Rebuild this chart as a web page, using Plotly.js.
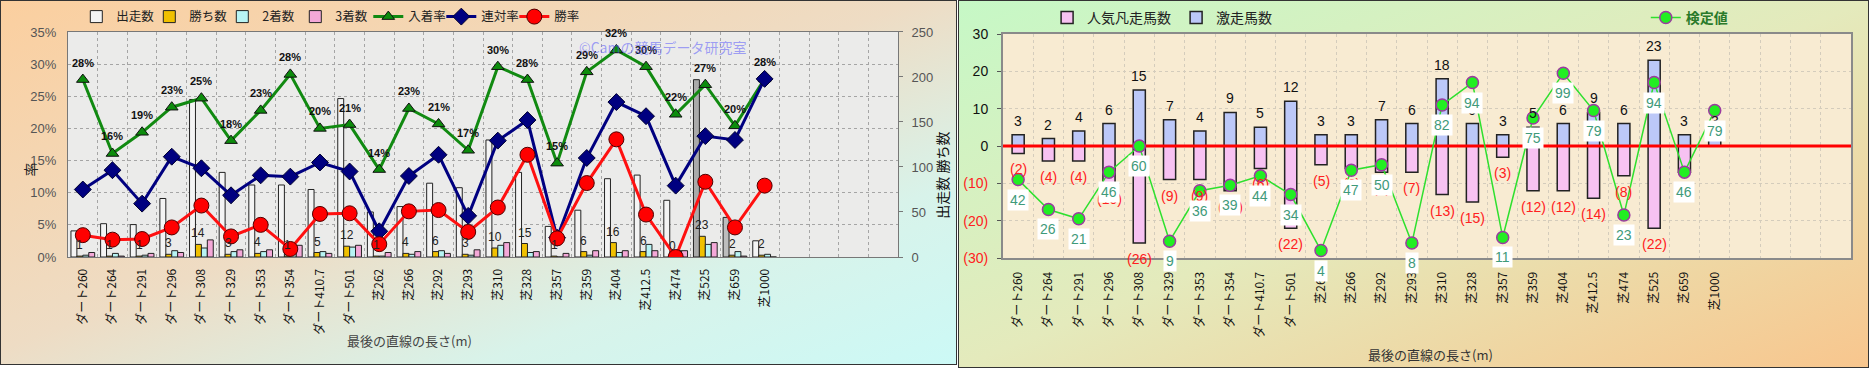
<!DOCTYPE html>
<html><head><meta charset="utf-8">
<script src="https://cdn.plot.ly/plotly-3.0.1.min.js"></script>
<style>
html,body{margin:0;padding:0;width:1869px;height:368px;overflow:hidden;background:#ffffff;}
#left{position:absolute;left:0;top:0;width:955px;height:363px;border:1px solid #333;
 background:linear-gradient(to bottom right,#fbcf9f 0%,#eedcc4 48%,#d8f3ea 75%,#ccf9f6 100%);}
#right{position:absolute;left:958px;top:0;width:909px;height:366px;border:1px solid #333;
 background:linear-gradient(to bottom right,#c6f8c6 0%,#e4eabc 50%,#f8c68e 100%);}
</style></head>
<body>
<div id="left"></div>
<div id="right"></div>
<script>
// ---------- data ----------
const categories = ['ダート260','ダート264','ダート291','ダート296','ダート308','ダート329','ダート353','ダート354','ダート410.7','ダート501',
  '芝262','芝266','芝292','芝293','芝310','芝328','芝357','芝359','芝404','芝412.5','芝474','芝525','芝659','芝1000'];
// left chart
const starts  = [29,37,36,65,175,94,80,80,75,176,50,56,82,77,130,94,34,52,87,91,63,197,44,18];
const wins    = [1,1,1,3,14,3,4,1,5,12,1,4,6,3,10,15,1,6,16,6,0,23,2,2];
const seconds = [2,4,2,7,10,6,6,9,6,11,1,3,7,2,13,5,0,2,5,14,7,14,6,3];
const thirds  = [5,1,4,5,19,8,8,13,4,13,5,6,4,8,16,6,4,7,7,7,7,16,1,0];
const placeRate = [27.6,16.1,19.4,23.3,24.7,18.1,22.8,28.4,20.0,20.6,13.6,23.1,20.7,16.6,29.6,27.6,14.6,28.8,32.2,29.6,22.2,26.8,20.4,27.7];
const renRate   = [10.5,13.5,8.3,15.6,13.8,9.6,12.7,12.5,14.7,13.3,4.0,12.6,15.9,6.4,18.1,21.3,3.0,15.4,24.1,21.9,11.1,18.8,18.2,27.7];
const winRate   = [3.4,2.7,2.8,4.6,8.0,3.2,5.0,1.25,6.7,6.8,2.0,7.1,7.3,3.9,7.7,15.9,2.9,11.5,18.3,6.6,0,11.7,4.6,11.1];
const rateTicks = [0,5,10,15,20,25,30,35];
const countTicks = [0,50,100,150,200,250];
// right chart
const bonso  = [2,4,4,10,26,9,9,12,6,22,5,6,7,7,13,15,3,12,12,14,8,22,7,0];
const gekiso = [3,2,4,6,15,7,4,9,5,12,3,3,7,6,18,6,3,5,6,9,6,23,3,3];
const kentei = [42,26,21,46,60,9,36,39,44,34,4,47,50,8,82,94,11,75,99,79,23,94,46,79];
const rightTicks = [-30,-20,-10,0,10,20,30];

// ---------- common ----------
const FONT = 'Liberation Sans, Noto Sans CJK JP, sans-serif';
const JFONT = 'Noto Sans CJK JP, Liberation Sans, sans-serif';
const idx = categories.map((_, i) => i);
const NSLOT = 28;
function paperAnn(x, y, text, font, angle) {
  return {xref:'paper', yref:'paper', x:x, y:y, xanchor:'center', yanchor:'middle', showarrow:false,
    text:text, font:font, textangle:angle || 0};
}

// ---------- left chart ----------
const startColors = categories.map(c => c === '芝525' ? '#aaaaaa' : (c === '芝659' ? '#bdbdbd' : '#f4f4f4'));
const barLine = {color:'#222', width:1};
const leftTraces = [
  {type:'bar', name:'出走数', x:idx, y:starts, yaxis:'y', marker:{color:startColors, line:barLine}, hoverinfo:'skip'},
  {type:'bar', name:'勝ち数', x:idx, y:wins, yaxis:'y', marker:{color:'#f0c000', line:barLine}, hoverinfo:'skip'},
  {type:'bar', name:'2着数', x:idx, y:seconds, yaxis:'y', marker:{color:'#b8f4f4', line:barLine}, hoverinfo:'skip'},
  {type:'bar', name:'3着数', x:idx, y:thirds, yaxis:'y', marker:{color:'#f4a8d8', line:barLine}, hoverinfo:'skip'},
  {type:'scatter', mode:'lines+markers', name:'入着率', x:idx, y:placeRate, yaxis:'y2',
   line:{color:'#118a11', width:3}, marker:{symbol:'triangle-up', size:11, color:'#0c8c0c', line:{color:'#111', width:1}}},
  {type:'scatter', mode:'lines+markers', name:'連対率', x:idx, y:renRate, yaxis:'y2',
   line:{color:'#000080', width:3}, marker:{symbol:'diamond', size:13, color:'#000080', line:{color:'#000030', width:1}}},
  {type:'scatter', mode:'lines+markers', name:'勝率', x:idx, y:winRate, yaxis:'y2',
   line:{color:'#ff1010', width:3}, marker:{symbol:'circle', size:15, color:'#ff0000', line:{color:'#500000', width:1}}}
];
const leftAnn = [];
placeRate.forEach((v, i) => leftAnn.push({x:i, y:v, xref:'x', yref:'y2', yshift:17, showarrow:false,
  text: Math.round(v) + '%', font:{family:FONT, size:11, color:'#111', weight:'bold'}}));
wins.forEach((v, i) => leftAnn.push({x:i - 0.1, y:v, xref:'x', yref:'y', yshift:11, showarrow:false,
  text: String(v), font:{family:FONT, size:12, color:'#222'}}));
leftAnn.push(paperAnn(0.716, 0.935, '©Camの競馬データ研究室', {family:JFONT, size:14, color:'rgba(90,90,250,0.55)'}));
leftAnn.push(paperAnn(-0.046, 0.388, '率', {family:JFONT, size:14, color:'#222'}, -90));
leftAnn.push(paperAnn(1.053, 0.366, '出走数 勝ち数', {family:JFONT, size:14, color:'#111'}, -90));
leftAnn.push(paperAnn(0.412, -0.371, '最後の直線の長さ(m)', {family:JFONT, size:13, color:'#444'}));

const leftLayout = {
  width:955, height:363,
  margin:{l:67, r:58, t:24, b:107, pad:0},
  paper_bgcolor:'rgba(0,0,0,0)', plot_bgcolor:'#ebebea',
  font:{family:JFONT, size:13, color:'#222'},
  barmode:'group', bargap:0.2, bargroupgap:0,
  showlegend:true,
  legend:{orientation:'h', x:0.01, xanchor:'left', yref:'container', y:0.956, yanchor:'middle', bgcolor:'rgba(0,0,0,0)',
    font:{family:JFONT, size:12.5, color:'#222'}, itemwidth:30, traceorder:'normal',
    entrywidth:28, entrywidthmode:'pixels'},
  xaxis:{range:[-0.5, NSLOT - 0.5], tickmode:'array', tickvals:idx, ticktext:categories, tickangle:-90,
    showgrid:false, zeroline:false, showline:true, linecolor:'#777', linewidth:1, mirror:true, ticks:'',
    ticklabelstandoff:6, tickfont:{family:JFONT, size:12, color:'#111'},
    minor:{tickmode:'linear', tick0:-0.5, dtick:1, showgrid:true, gridcolor:'#a5a5a5', griddash:'dot', gridwidth:1}},
  yaxis:{side:'right', range:[0,250], tickmode:'array', tickvals:countTicks, ticktext:countTicks.map(String),
    showgrid:false, zeroline:false, showline:true, linecolor:'#777', ticks:'outside', ticklen:4, tickcolor:'#777',
    ticklabelstandoff:6, tickfont:{family:FONT, size:13, color:'#555'}},
  yaxis2:{overlaying:'y', side:'left', range:[0,35], tickmode:'array', tickvals:rateTicks,
    ticktext:rateTicks.map(v => v + '%'),
    showgrid:true, gridcolor:'#a5a5a5', griddash:'dot', zeroline:false, showline:true, linecolor:'#777',
    ticks:'', ticklabelstandoff:8, tickfont:{family:FONT, size:13, color:'#555'}},
  annotations:leftAnn
};

// ---------- right chart ----------
const rightTraces = [
  {type:'bar', name:'人気凡走馬数', x:idx, y:bonso.map(v => -v), yaxis:'y', width:0.4, legendrank:1,
   marker:{color:'#f7c2f2', line:{color:'#222', width:1.5}}, hoverinfo:'skip'},
  {type:'bar', name:'激走馬数', x:idx, y:gekiso, yaxis:'y', width:0.4, legendrank:2,
   marker:{color:'#bcc8f8', line:{color:'#222', width:1.5}}, hoverinfo:'skip'},
  {type:'scatter', mode:'lines', x:[-0.5, NSLOT - 0.5], y:[0, 0], yaxis:'y', showlegend:false, hoverinfo:'skip',
   line:{color:'#ff0000', width:3}},
  {type:'scatter', mode:'lines+markers', name:'検定値', x:idx, y:kentei, yaxis:'y2', legend:'legend2',
   line:{color:'#2ee02e', width:1.5}, marker:{symbol:'circle', size:12, color:'#22ee22', line:{color:'#9b3aa0', width:1.5}}}
];
const rightAnn = [];
gekiso.forEach((v, i) => rightAnn.push({x:i, y:v, xref:'x', yref:'y', yshift:14, showarrow:false,
  text:String(v), font:{family:FONT, size:14, color:'#111'}}));
bonso.forEach((v, i) => { if (v > 0) rightAnn.push({x:i, y:-v, xref:'x', yref:'y', yshift:-16, showarrow:false,
  text:'(' + v + ')', font:{family:FONT, size:14, color:'#ff2020'}}); });
kentei.forEach((v, i) => rightAnn.push({x:i, y:v, xref:'x', yref:'y2', yshift:-20, showarrow:false,
  text:String(v), bgcolor:'#ffffff', borderpad:2, font:{family:FONT, size:14, color:'#3f9a7a'}}));
rightAnn.push(paperAnn(0.504, -0.429, '最後の直線の長さ(m)', {family:JFONT, size:13, color:'#333'}));

const rightLayout = {
  width:909, height:366,
  margin:{l:44, r:17, t:33, b:109, pad:0},
  paper_bgcolor:'rgba(0,0,0,0)', plot_bgcolor:'#f8ebd2',
  font:{family:JFONT, size:13, color:'#222'},
  barmode:'overlay',
  showlegend:true,
  legend:{orientation:'h', x:0.052, xanchor:'left', yref:'container', y:0.954, yanchor:'middle', bgcolor:'rgba(0,0,0,0)',
    font:{family:JFONT, size:14, color:'#222'}},
  legend2:{orientation:'h', x:0.758, xanchor:'left', yref:'container', y:0.954, yanchor:'middle', bgcolor:'rgba(0,0,0,0)',
    font:{family:JFONT, size:14, color:'#2a7a2a', weight:'bold'}},
  xaxis:{range:[-0.5, NSLOT - 0.5], tickmode:'array', tickvals:idx, ticktext:categories, tickangle:-90,
    showgrid:false, zeroline:false, showline:true, linecolor:'#8a8a8a', linewidth:2, mirror:true, ticks:'',
    ticklabelstandoff:7, tickfont:{family:JFONT, size:12, color:'#111'},
    minor:{tickmode:'linear', tick0:-0.5, dtick:1, showgrid:true, gridcolor:'#d4ccbc', griddash:'dot', gridwidth:1}},
  yaxis:{range:[-30,30], tickmode:'array', tickvals:rightTicks,
    ticktext:rightTicks.map(v => v < 0 ? '<span style="color:#ff2020">(' + (-v) + ')</span>' : String(v)),
    showgrid:true, gridcolor:'#d4ccbc', griddash:'dot', zeroline:false, showline:true, linecolor:'#8a8a8a',
    linewidth:2, mirror:true, ticks:'outside', ticklen:4, tickcolor:'#555',
    ticklabelstandoff:6, tickfont:{family:FONT, size:14, color:'#111'}},
  yaxis2:{overlaying:'y', range:[0,120], visible:false, showgrid:false},
  annotations:rightAnn
};

const cfg = {displayModeBar:false, staticPlot:true};
Plotly.newPlot('left', leftTraces, leftLayout, cfg);
Plotly.newPlot('right', rightTraces, rightLayout, cfg);
</script>
</body></html>
